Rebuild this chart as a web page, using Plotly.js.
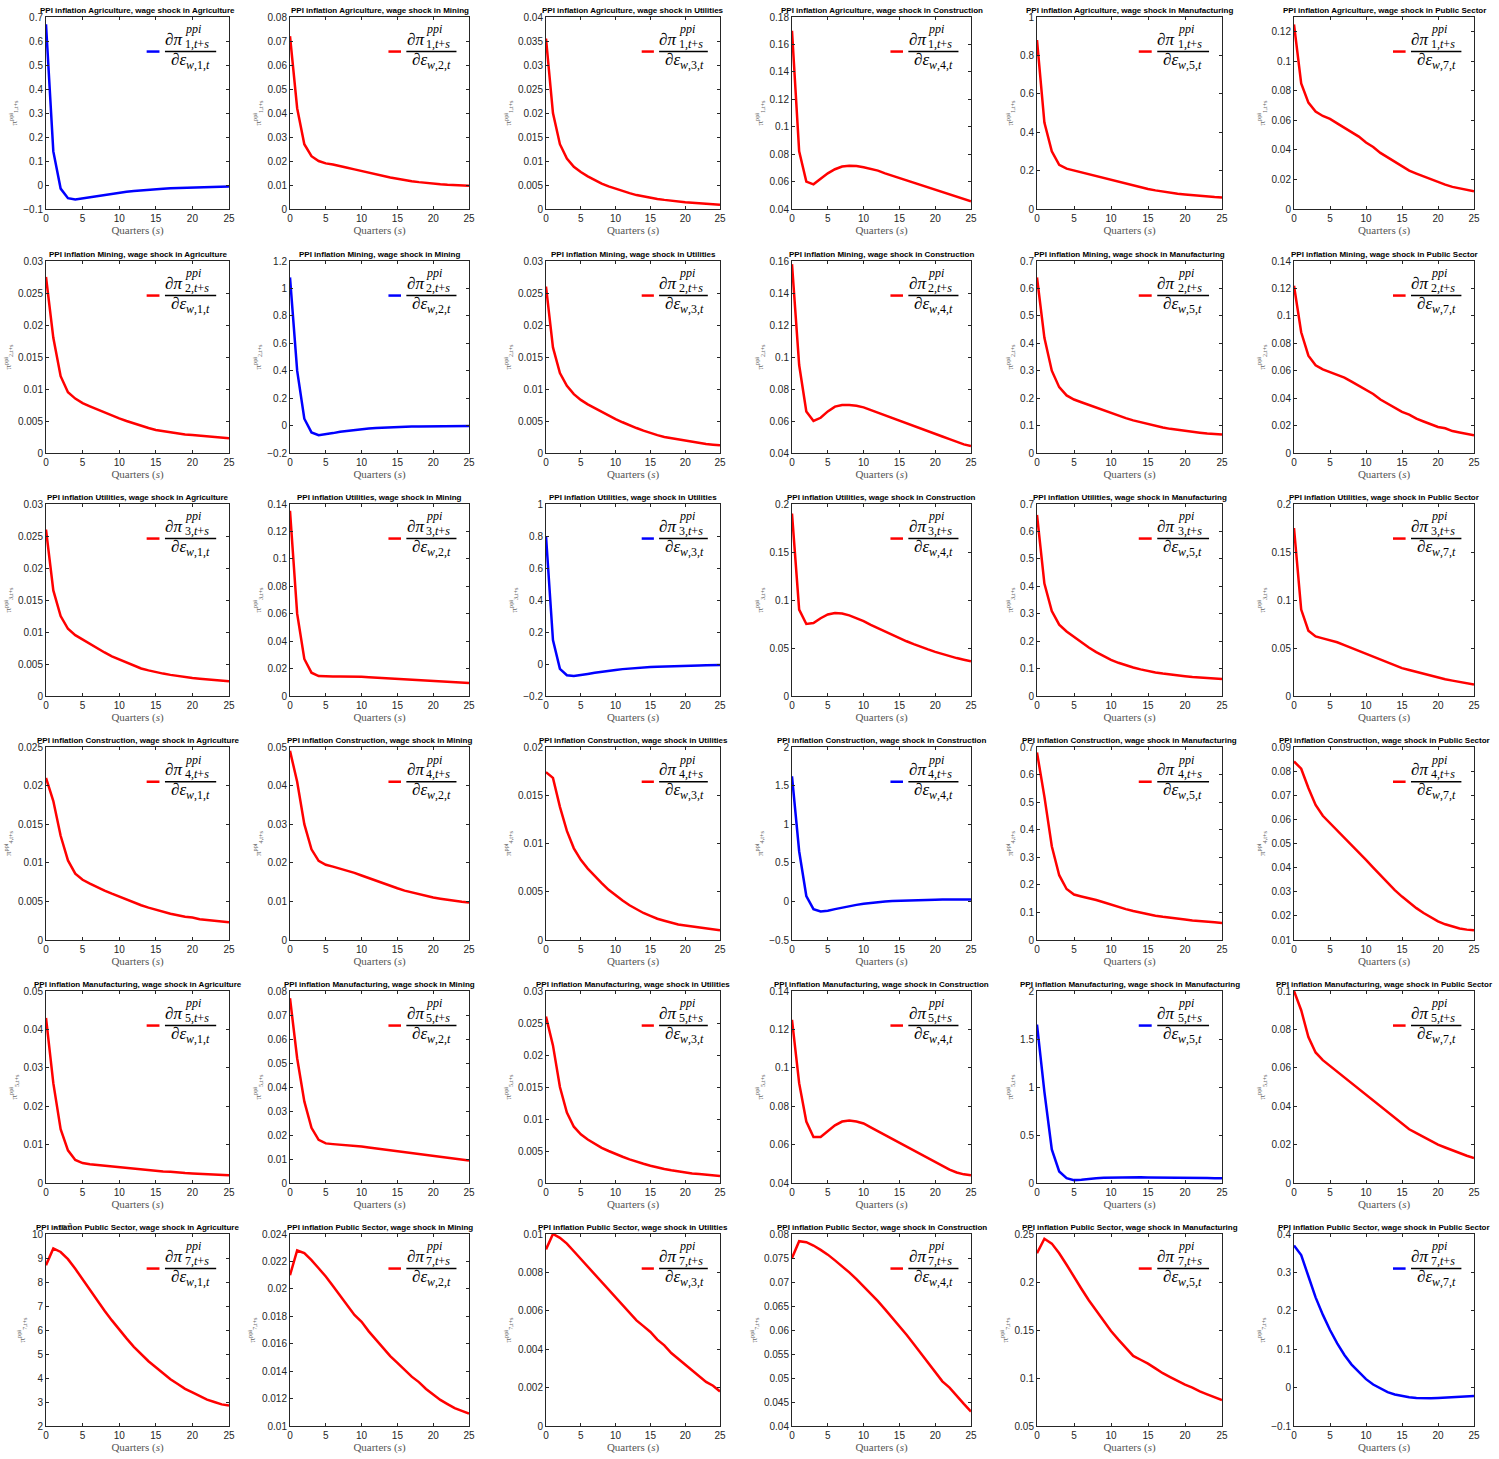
<!DOCTYPE html>
<html>
<head>
<meta charset="utf-8">
<script src="https://cdn.plot.ly/plotly-3.0.1.min.js"></script>
<style>body{margin:0;background:#fff}</style>
</head>
<body>
<div id="chart" style="width:1499px;height:1459px"></div>
<script>
var quarters = [0,1,2,3,4,5,6,7,8,9,10,11,12,13,14,15,16,17,18,19,20,21,22,23,24,25];
var sectors = ['Agriculture', 'Mining', 'Utilities', 'Construction', 'Manufacturing', 'Public Sector'];
var sectorIdx = [1, 2, 3, 4, 5, 7];

// responses[row][col]: PPI inflation in sector row, wage shock in sector col
var agri = [
  [0.67,0.14,-0.015,-0.055,-0.06,-0.055,-0.05,-0.045,-0.04,-0.035,-0.031,-0.028,-0.025,-0.022,-0.02,-0.018,-0.016,-0.014,-0.013,-0.012,-0.011,-0.01,-0.009,-0.008,-0.007,-0.006],
  [0.072,0.042,0.027,0.022,0.020,0.019,0.0185,0.018,0.0172,0.0165,0.0158,0.015,0.0143,0.0137,0.0131,0.0126,0.012,0.0116,0.0112,0.0108,0.0106,0.0103,0.0101,0.0099,0.0098,0.0097],
  [0.0355,0.02,0.0135,0.0105,0.0088,0.0077,0.0068,0.006,0.0053,0.0047,0.0042,0.0037,0.0033,0.0029,0.0026,0.0023,0.0021,0.0019,0.0017,0.0015,0.0014,0.0013,0.0012,0.0011,0.001,0.0009],
  [0.17,0.082,0.06,0.058,0.062,0.066,0.069,0.071,0.0715,0.0713,0.0705,0.0693,0.068,0.066,0.0643,0.0626,0.0609,0.0592,0.0575,0.0558,0.0541,0.0524,0.0507,0.049,0.0473,0.0456],
  [0.88,0.45,0.3,0.23,0.21,0.2,0.19,0.18,0.17,0.16,0.15,0.14,0.13,0.12,0.112,0.104,0.097,0.09,0.085,0.08,0.076,0.072,0.068,0.065,0.062,0.06],
  [0.125,0.085,0.072,0.066,0.063,0.061,0.058,0.055,0.052,0.049,0.045,0.042,0.038,0.035,0.032,0.029,0.026,0.024,0.022,0.02,0.018,0.0165,0.015,0.014,0.013,0.012]
];
var mining = [
  [0.0275,0.018,0.012,0.0095,0.0085,0.0078,0.0073,0.0068,0.0063,0.0058,0.0054,0.005,0.0046,0.0042,0.0039,0.0036,0.0034,0.0032,0.003,0.0029,0.0028,0.0027,0.0026,0.0025,0.0024,0.0023],
  [1.08,0.4,0.05,-0.05,-0.07,-0.065,-0.055,-0.045,-0.038,-0.032,-0.027,-0.022,-0.018,-0.015,-0.012,-0.01,-0.008,-0.007,-0.006,-0.005,-0.004,-0.004,-0.003,-0.003,-0.003,-0.003],
  [0.026,0.0165,0.0125,0.0105,0.0092,0.0083,0.0076,0.007,0.0064,0.0058,0.0053,0.0048,0.0043,0.0039,0.0035,0.0031,0.0028,0.0025,0.0023,0.0021,0.0019,0.0017,0.0015,0.0014,0.0013,0.0012],
  [0.158,0.095,0.066,0.06,0.062,0.066,0.069,0.07,0.07,0.0695,0.0685,0.0668,0.0652,0.0635,0.0619,0.0602,0.0586,0.0569,0.0553,0.0536,0.052,0.0503,0.0487,0.047,0.0454,0.0443],
  [0.64,0.42,0.3,0.24,0.21,0.195,0.185,0.175,0.165,0.155,0.145,0.135,0.127,0.119,0.112,0.105,0.099,0.093,0.088,0.084,0.08,0.077,0.074,0.071,0.069,0.067],
  [0.122,0.088,0.071,0.064,0.061,0.059,0.057,0.055,0.052,0.049,0.046,0.043,0.039,0.036,0.033,0.03,0.028,0.025,0.023,0.021,0.019,0.018,0.016,0.015,0.014,0.013]
];
var utilities = [
  [0.026,0.0165,0.0125,0.0105,0.0095,0.0088,0.0081,0.0074,0.0068,0.0062,0.0057,0.0052,0.0047,0.0043,0.004,0.0037,0.0035,0.0033,0.0031,0.0029,0.0028,0.0027,0.0026,0.0025,0.0024,0.0023],
  [0.135,0.06,0.027,0.017,0.0145,0.0142,0.0142,0.0143,0.0143,0.0142,0.014,0.0137,0.0134,0.0131,0.0128,0.0125,0.0122,0.0119,0.0116,0.0113,0.011,0.0107,0.0104,0.0101,0.0098,0.0095],
  [0.8,0.15,-0.03,-0.07,-0.075,-0.07,-0.062,-0.055,-0.048,-0.042,-0.037,-0.032,-0.028,-0.025,-0.022,-0.019,-0.017,-0.015,-0.013,-0.012,-0.011,-0.01,-0.009,-0.008,-0.007,-0.006],
  [0.19,0.09,0.075,0.076,0.081,0.085,0.0865,0.086,0.084,0.081,0.078,0.074,0.0705,0.067,0.0635,0.06,0.057,0.054,0.051,0.0485,0.046,0.0437,0.0415,0.0395,0.0378,0.0362],
  [0.66,0.41,0.31,0.26,0.235,0.215,0.195,0.177,0.16,0.145,0.132,0.121,0.112,0.104,0.097,0.091,0.086,0.082,0.078,0.075,0.072,0.069,0.067,0.065,0.063,0.062],
  [0.175,0.09,0.068,0.062,0.06,0.058,0.056,0.053,0.05,0.047,0.044,0.041,0.038,0.035,0.032,0.029,0.027,0.025,0.023,0.021,0.019,0.0175,0.016,0.0145,0.0132,0.012]
];
var construction = [
  [0.021,0.018,0.0135,0.0103,0.0086,0.0078,0.0073,0.0068,0.0064,0.006,0.0056,0.0052,0.0048,0.0045,0.0042,0.0039,0.0036,0.0034,0.0032,0.003,0.0029,0.0027,0.0026,0.0025,0.0024,0.0023],
  [0.049,0.041,0.03,0.0235,0.0205,0.0195,0.019,0.0185,0.018,0.0174,0.0167,0.016,0.0153,0.0146,0.014,0.0134,0.0128,0.0123,0.0118,0.0114,0.011,0.0107,0.0104,0.0101,0.0099,0.0097],
  [0.0174,0.0168,0.0138,0.0113,0.0095,0.0083,0.0074,0.0066,0.0059,0.0052,0.0046,0.0041,0.0036,0.0032,0.0028,0.0025,0.0022,0.002,0.0018,0.0016,0.0015,0.0014,0.0013,0.0012,0.0011,0.001],
  [1.62,0.65,0.07,-0.1,-0.13,-0.12,-0.1,-0.08,-0.06,-0.045,-0.03,-0.018,-0.008,0,0.006,0.01,0.014,0.017,0.019,0.021,0.022,0.023,0.024,0.024,0.025,0.025],
  [0.68,0.52,0.34,0.235,0.185,0.165,0.158,0.152,0.145,0.137,0.128,0.12,0.112,0.105,0.099,0.093,0.088,0.084,0.08,0.077,0.074,0.071,0.068,0.066,0.064,0.062],
  [0.084,0.081,0.073,0.066,0.0615,0.0585,0.0555,0.0525,0.0495,0.0465,0.0432,0.04,0.0368,0.0337,0.0307,0.028,0.0255,0.0232,0.0212,0.0193,0.0177,0.0165,0.0155,0.0148,0.0143,0.014]
];
var manufacturing = [
  [0.043,0.026,0.014,0.0085,0.006,0.0052,0.0049,0.0047,0.0045,0.0043,0.0041,0.0039,0.0037,0.0035,0.0033,0.0031,0.003,0.0029,0.0027,0.0026,0.0025,0.0024,0.0023,0.0022,0.0021,0.002],
  [0.077,0.052,0.034,0.023,0.018,0.0165,0.0162,0.016,0.0158,0.0155,0.0152,0.0148,0.0144,0.014,0.0136,0.0132,0.0128,0.0124,0.012,0.0116,0.0112,0.0108,0.0104,0.01,0.0097,0.0094],
  [0.026,0.0215,0.015,0.011,0.0088,0.0076,0.0068,0.0061,0.0055,0.005,0.0045,0.0041,0.0037,0.0033,0.003,0.0027,0.0024,0.0022,0.002,0.0018,0.0016,0.0015,0.0014,0.0013,0.0012,0.0011],
  [0.125,0.092,0.072,0.064,0.064,0.067,0.07,0.072,0.0725,0.072,0.071,0.069,0.067,0.065,0.063,0.061,0.059,0.057,0.055,0.053,0.051,0.049,0.047,0.0455,0.0445,0.044],
  [1.65,0.95,0.35,0.12,0.05,0.03,0.035,0.045,0.05,0.055,0.057,0.058,0.059,0.059,0.059,0.058,0.058,0.057,0.056,0.055,0.054,0.053,0.052,0.051,0.05,0.049],
  [0.1,0.09,0.076,0.068,0.064,0.061,0.058,0.055,0.052,0.049,0.046,0.043,0.04,0.037,0.034,0.031,0.028,0.026,0.024,0.022,0.02,0.0185,0.017,0.0155,0.0142,0.013]
];
// first panel of this row is in units of 1e-3
var publicSector = [
  [8.7,9.4,9.25,8.95,8.55,8.1,7.65,7.2,6.8,6.4,6.0,5.65,5.3,5.0,4.7,4.45,4.2,3.95,3.75,3.55,3.4,3.25,3.1,3.0,2.9,2.85],
  [0.021,0.0228,0.0226,0.0221,0.0215,0.0209,0.0202,0.0195,0.0188,0.0181,0.0176,0.0169,0.0163,0.0157,0.0151,0.0146,0.0141,0.0136,0.0132,0.0127,0.0123,0.0119,0.0116,0.0113,0.0111,0.0109],
  [0.0092,0.01,0.0098,0.0095,0.0091,0.0087,0.0083,0.0079,0.0075,0.0071,0.0067,0.0063,0.0059,0.0055,0.0052,0.0049,0.0045,0.0042,0.0038,0.0035,0.0032,0.0029,0.0026,0.0023,0.0021,0.0018],
  [0.075,0.0785,0.0783,0.0776,0.0767,0.0757,0.0745,0.0733,0.072,0.0706,0.0691,0.0676,0.066,0.0643,0.0626,0.0608,0.059,0.0571,0.0552,0.0533,0.0513,0.0493,0.048,0.0462,0.0446,0.043],
  [0.23,0.245,0.24,0.23,0.218,0.205,0.193,0.181,0.17,0.159,0.149,0.14,0.131,0.123,0.119,0.115,0.11,0.105,0.101,0.097,0.093,0.09,0.086,0.083,0.08,0.077],
  [0.37,0.345,0.29,0.235,0.19,0.15,0.115,0.085,0.06,0.04,0.022,0.008,-0.003,-0.012,-0.018,-0.022,-0.025,-0.027,-0.028,-0.028,-0.027,-0.026,-0.025,-0.024,-0.023,-0.022]
];
var responses = [agri, mining, utilities, construction, manufacturing, publicSector];

// y ranges and tick steps per panel
var yRanges = [
  [[-0.1,0.7],[0,0.08],[0,0.04],[0.04,0.18],[0,1],[0,0.13]],
  [[0,0.03],[-0.2,1.2],[0,0.03],[0.04,0.16],[0,0.7],[0,0.14]],
  [[0,0.03],[0,0.14],[-0.2,1],[0,0.2],[0,0.7],[0,0.2]],
  [[0,0.025],[0,0.05],[0,0.02],[-0.5,2],[0,0.7],[0.01,0.09]],
  [[0,0.05],[0,0.08],[0,0.03],[0.04,0.14],[0,2],[0,0.1]],
  [[2,10],[0.01,0.024],[0,0.01],[0.04,0.08],[0.05,0.25],[-0.1,0.4]]
];
var yDticks = [
  [0.1,0.01,0.005,0.02,0.2,0.02],
  [0.005,0.2,0.005,0.02,0.1,0.02],
  [0.005,0.02,0.2,0.05,0.1,0.05],
  [0.005,0.01,0.005,0.5,0.1,0.01],
  [0.01,0.01,0.005,0.02,0.5,0.02],
  [1,0.002,0.002,0.005,0.05,0.1]
];

var colL = [46, 290, 546, 792, 1037, 1294];
var colR = [229, 469, 720, 971, 1222, 1474];
var rowT = [17, 261, 504, 747, 991, 1234];
var rowB = [209, 453, 696, 940, 1183, 1426];
var W = 1499, H = 1459;

var data = [];
var layout = {
  width: W, height: H,
  margin: {l: 0, r: 0, t: 0, b: 0},
  paper_bgcolor: 'white', plot_bgcolor: 'white',
  showlegend: false,
  font: {family: 'Liberation Sans, Arial, sans-serif', color: '#262626', size: 10},
  annotations: [], shapes: []
};

for (var r = 0; r < 6; r++) {
  for (var c = 0; c < 6; c++) {
    var k = r * 6 + c + 1;
    var xa = 'x' + (k === 1 ? '' : k), ya = 'y' + (k === 1 ? '' : k);
    var own = r === c;
    var col = own ? '#0000ff' : '#ff0000';
    data.push({
      x: quarters, y: responses[r][c], type: 'scatter', mode: 'lines',
      xaxis: xa, yaxis: ya, line: {color: col, width: 2.5}
    });
    var i = sectorIdx[r], j = sectorIdx[c];
    layout['xaxis' + (k === 1 ? '' : k)] = {
      domain: [colL[c] / W, colR[c] / W], anchor: ya, range: [0, 25], dtick: 5,
      showgrid: false, zeroline: false, showline: true, mirror: 'ticks', linecolor: '#262626',
      ticks: 'inside', ticklen: 3, tickcolor: '#262626', tickfont: {size: 10},
      title: {text: 'Quarters (<i>s</i>)', standoff: 2,
        font: {family: 'Liberation Serif, serif', size: 11, color: '#555'}}
    };
    layout['yaxis' + (k === 1 ? '' : k)] = {
      domain: [1 - rowB[r] / H, 1 - rowT[r] / H], anchor: xa,
      range: yRanges[r][c], dtick: yDticks[r][c],
      showgrid: false, zeroline: false, showline: true, mirror: 'ticks', linecolor: '#262626',
      ticks: 'inside', ticklen: 3, tickcolor: '#262626', tickfont: {size: 10},
      title: {text: '\u03c0<sup>ppi</sup><sub>' + i + ',t+s</sub>', standoff: 4,
        font: {family: 'Liberation Serif, serif', size: 9, color: '#666'}}
    };
    var xd = xa + ' domain', yd = ya + ' domain';
    layout.annotations.push({
      xref: xd, yref: yd, x: 0.5, y: 1.0, yanchor: 'bottom', xanchor: 'center', showarrow: false,
      text: '<b>PPI inflation ' + sectors[r] + ', wage shock in ' + sectors[c] + '</b>',
      font: {size: 8, color: '#000'}
    });
    var lf = {family: 'Liberation Serif, serif', size: 17, color: '#000'};
    var sf = {family: 'Liberation Serif, serif', size: 12, color: '#000'};
    layout.annotations.push(
      {xref: xd, yref: yd, x: 0.64, y: 0.885, xanchor: 'left', yanchor: 'middle', showarrow: false,
        text: '\u2202<i>\u03c0</i>', font: lf},
      {xref: xd, yref: yd, x: 0.75, y: 0.935, xanchor: 'left', yanchor: 'middle', showarrow: false,
        text: '<i>ppi</i>', font: sf},
      {xref: xd, yref: yd, x: 0.75, y: 0.86, xanchor: 'left', yanchor: 'middle', showarrow: false,
        text: i + ',<i>t</i>+<i>s</i>', font: sf},
      {xref: xd, yref: yd, x: 0.67, y: 0.77, xanchor: 'left', yanchor: 'middle', showarrow: false,
        text: '\u2202<i>\u03b5</i><sub><i>w</i>,' + j + ',<i>t</i></sub>', font: lf}
    );
    layout.shapes.push(
      {type: 'line', xref: xd, yref: yd, x0: 0.55, x1: 0.62, y0: 0.82, y1: 0.82,
        line: {color: col, width: 2.5}},
      {type: 'line', xref: xd, yref: yd, x0: 0.65, x1: 0.93, y0: 0.82, y1: 0.82,
        line: {color: '#000', width: 1.5}}
    );
  }
}
// exponent label for the 1e-3 panel
layout.annotations.push({
  xref: 'x31 domain', yref: 'y31 domain', x: 0.03, y: 1.0, xanchor: 'left', yanchor: 'bottom',
  showarrow: false, text: '\u00d710<sup>-3</sup>', font: {size: 8, color: '#262626'}
});

Plotly.newPlot('chart', data, layout, {staticPlot: true});
</script>
</body>
</html>
